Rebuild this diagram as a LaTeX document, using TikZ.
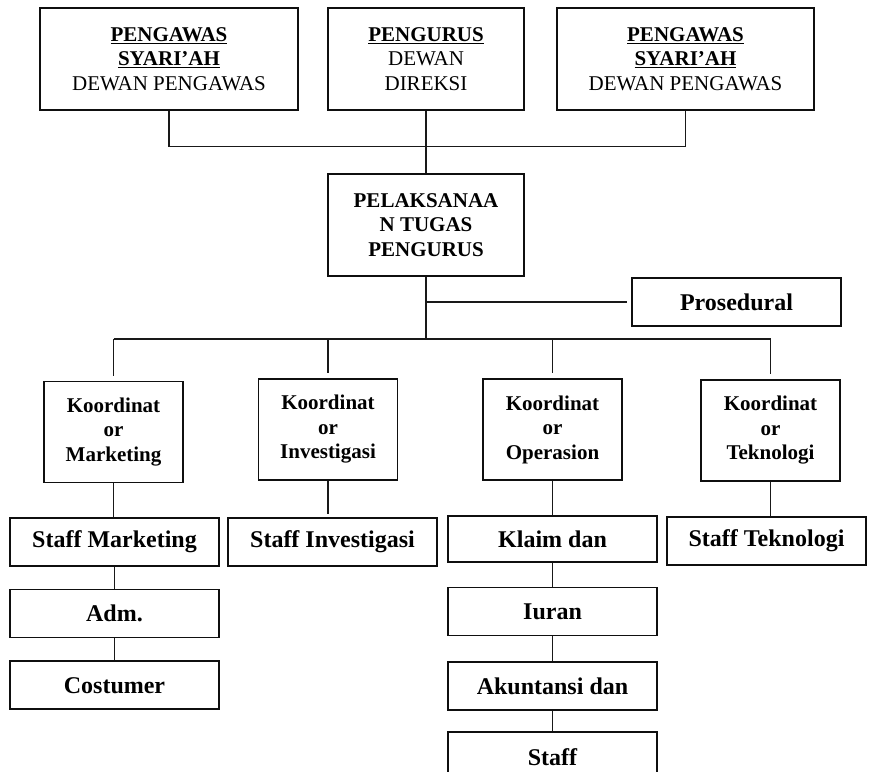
\documentclass[tikz,border=0pt]{standalone}
\usepackage{fontspec}
\setmainfont{Liberation Serif}
\usepackage{tikz}
\usetikzlibrary{positioning}
\definecolor{BoxBorder}{RGB}{15,15,15}
\definecolor{EdgeColor}{RGB}{25,25,25}
\tikzset{
  % Header box (three lines of text)
  tbox/.style={
    draw=BoxBorder,
    line width=1.6pt,
    align=center,
    inner sep=2pt,
    minimum height=102pt,
    font=\fontsize{21}{24.5}\selectfont
  },
  % Coordinator box
  kbox/.style={
    draw=BoxBorder,
    line width=1.6pt,
    align=center,
    inner sep=2pt,
    minimum width=139pt,
    minimum height=101pt,
    font=\fontsize{21}{24.5}\selectfont\bfseries
  },
  % Single line unit box
  ubox/.style={
    draw=BoxBorder,
    line width=1.6pt,
    minimum width=209pt,
    minimum height=48pt,
    inner sep=0pt,
    font=\fontsize{24}{28}\selectfont\bfseries
  },
  % Connector
  edge/.style={
    draw=EdgeColor,
    line width=1.3pt
  },
  % Main bus line
  bus/.style={
    draw=EdgeColor,
    line width=2.2pt
  }
}
\begin{document}
\begin{tikzpicture}[x=1pt,y=-1pt]
  \useasboundingbox (0,0) rectangle (869,771);

  % Top level
  \node[tbox, minimum width=258pt] (pws1) at (169,59)
    {\textbf{\underline{PENGAWAS}}\\\textbf{\underline{SYARI’AH}}\\DEWAN PENGAWAS};
  \node[tbox, minimum width=196pt] (pgr) at (426,59)
    {\textbf{\underline{PENGURUS}}\\DEWAN\\DIREKSI};
  \node[tbox, minimum width=257pt] (pws2) at (685.5,59)
    {\textbf{\underline{PENGAWAS}}\\\textbf{\underline{SYARI’AH}}\\DEWAN PENGAWAS};

  % Executive
  \node[tbox, minimum width=196pt, font=\fontsize{21}{24.5}\selectfont\bfseries] (pel) at (426,225)
    {PELAKSANAA\\N TUGAS\\PENGURUS};
  \node[ubox] (pros) at (736.5,302) {Prosedural};

  \draw[edge] (pws1.south) -- ++(0,36) -| (pws2.south);
  \draw[edge] (pgr.south) -- (pel.north);
  \draw[edge, shorten >=4pt] (pel.south |- pros.west) -- (pros.west);

  % Coordinators
  \node[kbox] (kmk) at (113.5,432) {Koordinat\\or\\Marketing};
  \node[kbox] (kiv) at (328,429.5) {Koordinat\\or\\Investigasi};
  \node[kbox] (kop) at (552.5,429.5) {Koordinat\\or\\Operasion};
  \node[kbox] (ktk) at (770.5,430.5) {Koordinat\\or\\Teknologi};

  \coordinate (busL) at (113.5,339);
  \draw[bus] (busL) -- (ktk.north |- busL);
  \draw[edge] (pel.south) -- (pel.south |- busL);
  \foreach \k in {kmk,kiv,kop,ktk} {
    \draw[edge, shorten >=5pt] (\k.north |- busL) -- (\k.north);
  }

  % Staff
  \node[ubox] (smk) at (114.5,542) {Staff Marketing};
  \node[ubox, below=22pt of smk] (adm) {Adm.};
  \node[ubox, below=22pt of adm] (cst) {Costumer};
  \node[ubox] (siv) at (332.5,542) {Staff Investigasi};
  \node[ubox, minimum height=46pt] (klm) at (552.5,539) {Klaim dan};
  \node[ubox, below=24pt of klm] (iur) {Iuran};
  \node[ubox, below=25pt of iur] (akt) {Akuntansi dan};
  \node[ubox, below=20pt of akt, minimum height=50pt] (stf) {Staff};
  \node[ubox, minimum width=199pt] (stk) at (766.5,541) {Staff Teknologi};

  \draw[edge] (kmk.south) -- (kmk.south |- smk.north);
  \draw[edge, shorten >=3pt] (kiv.south) -- (kiv.south |- siv.north);
  \draw[edge] (kop.south) -- (klm.north);
  \draw[edge] (ktk.south) -- (ktk.south |- stk.north);
  \draw[edge] (smk) -- (adm) -- (cst);
  \draw[edge] (klm) -- (iur) -- (akt) -- (stf);
\end{tikzpicture}
\end{document}
